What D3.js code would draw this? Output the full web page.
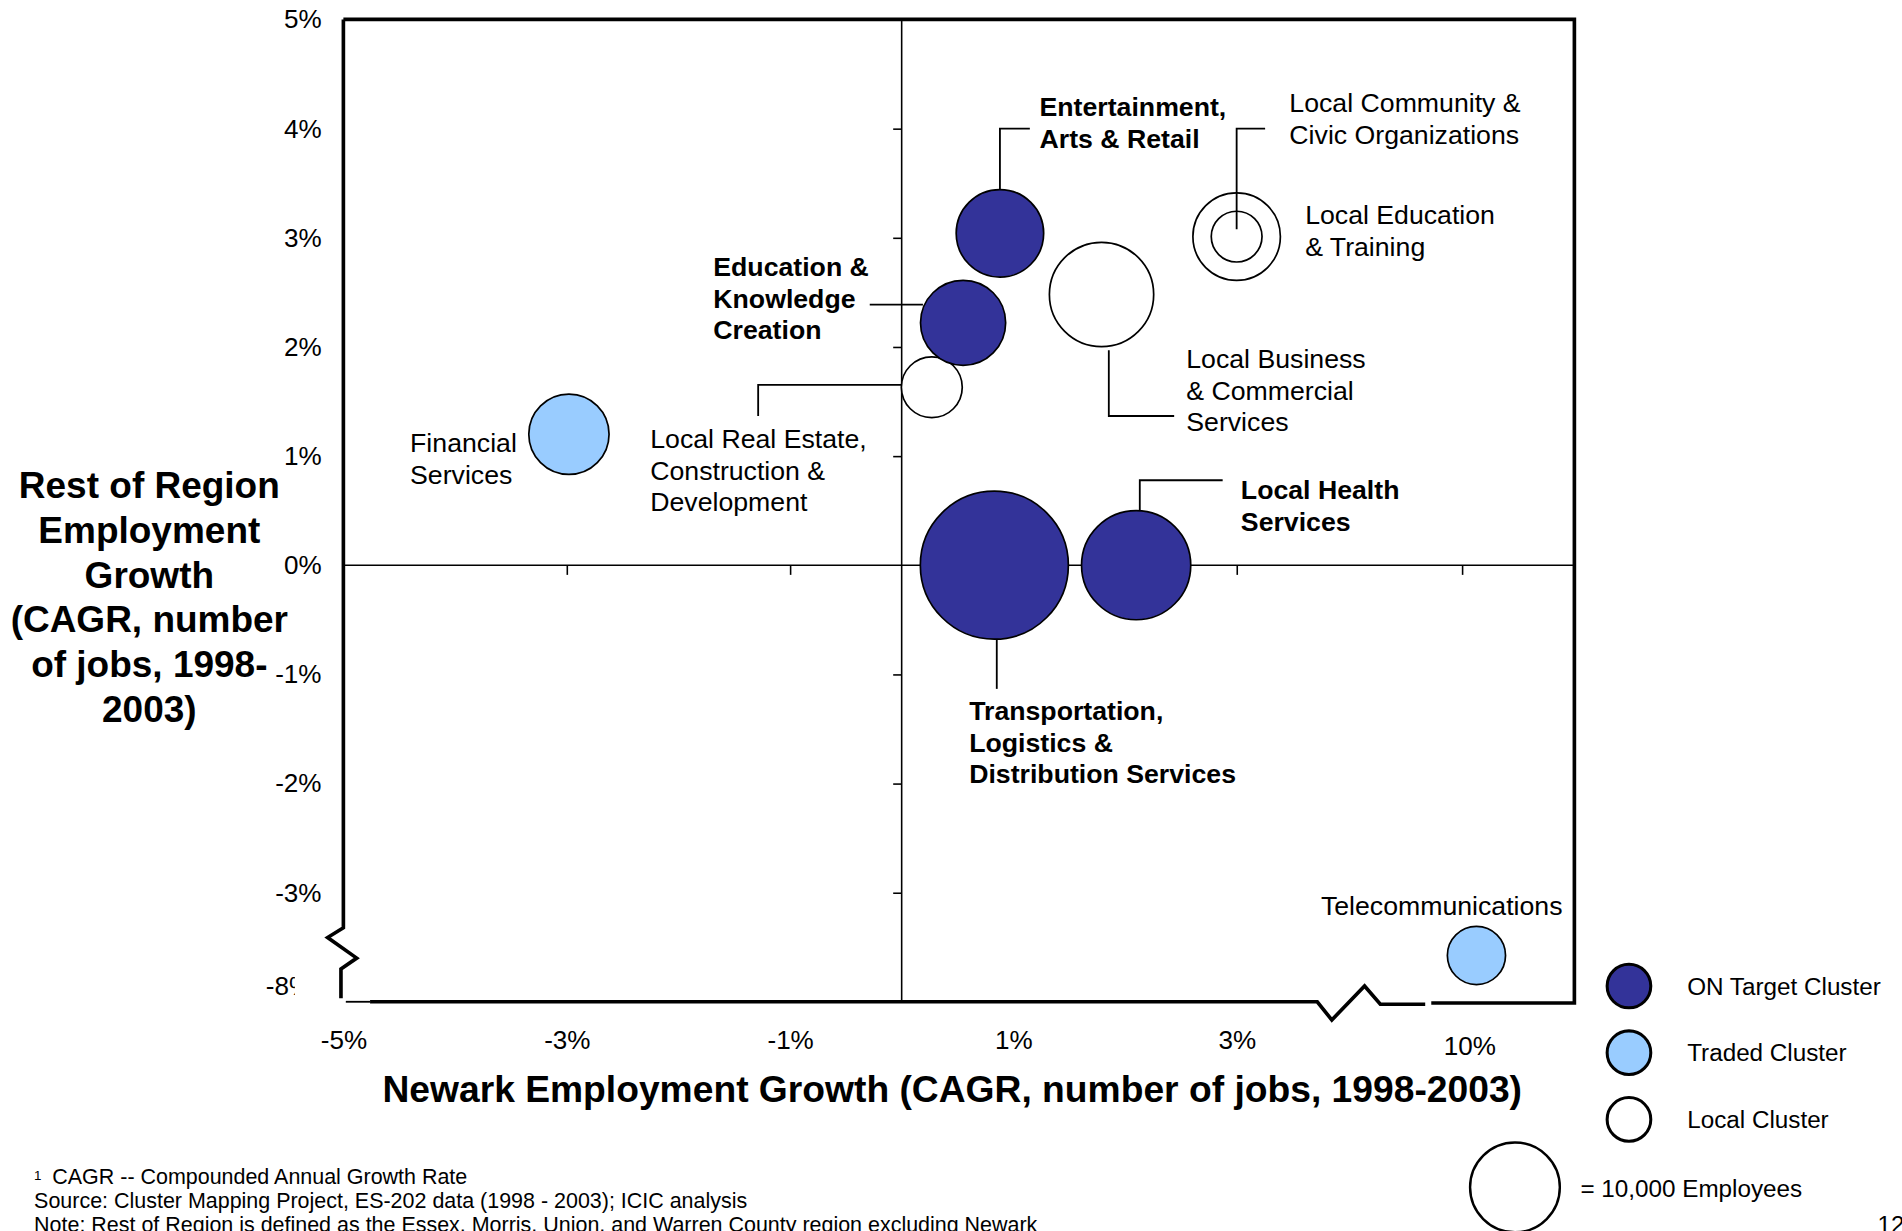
<!DOCTYPE html>
<html><head><meta charset="utf-8">
<script src="https://cdn.jsdelivr.net/npm/d3@7"></script>
<style>
body{margin:0;background:#fff}
svg{display:block}
text{font-family:"Liberation Sans",Arial,sans-serif;fill:#000}
</style>
</head><body>
<svg id="c" width="1902" height="1231" viewBox="0 0 1568 1015"></svg>
<script>
// ---------------- DATA ----------------
const clusters = [
  "Financial Services",
  "Local Real Estate, Construction & Development",
  "Education & Knowledge Creation",
  "Entertainment, Arts & Retail",
  "Local Business & Commercial Services",
  "Local Community & Civic Organizations",
  "Local Education & Training",
  "Transportation, Logistics & Distribution Services",
  "Local Health Services",
  "Telecommunications"
];
const clusterType = ["Traded","Local","ON Target","ON Target","Local","Local","Local","ON Target","ON Target","Traded"];
const newarkGrowth = [-2.98, 0.27, 0.55, 0.88, 1.79, 3.0, 3.0, 0.83, 2.1, 10.13];   // %
const regionGrowth = [1.2, 1.63, 2.22, 3.04, 2.48, 3.01, 3.01, 0.0, 0.0, -7.72];    // %
const employees    = [8000, 4600, 9000, 9500, 13500, 9500, 3200, 27200, 14800, 4200];

const xTickValues = [-5, -3, -1, 1, 3, 10];
const xTickLabels = ["-5%", "-3%", "-1%", "1%", "3%", "10%"];
const yTickValues = [5, 4, 3, 2, 1, 0, -1, -2, -3, -8];
const yTickLabels = ["5%", "4%", "3%", "2%", "1%", "0%", "-1%", "-2%", "-3%", "-8%"];

const legendTypes = ["ON Target", "Traded", "Local"];
const legendLabels = ["ON Target Cluster", "Traded Cluster", "Local Cluster"];
const sizeLegendValue = 10000;
const sizeLegendLabel = "= 10,000 Employees";

const xTitle = "Newark Employment Growth (CAGR, number of jobs, 1998-2003)";
const yTitleLines = ["Rest of Region", "Employment", "Growth", "(CAGR, number", "of jobs, 1998-", "2003)"];
const footnotes = [
  "CAGR -- Compounded Annual Growth Rate",
  "Source: Cluster Mapping Project, ES-202 data (1998 - 2003); ICIC analysis",
  "Note: Rest of Region is defined as the Essex, Morris, Union, and Warren County region excluding Newark"
];

// ---------------- LAYOUT ----------------
const L = 283, R = 1298, T = 16, B = 826;
const svg = d3.select("#c");

// broken axes: piecewise linear scales
const x = d3.scaleLinear().domain([-5, 4.2, 9.2, 11]).range([L, 1130, 1132, 1297]);
const y = d3.scaleLinear().domain([-8.15, -7.6, -3.4, 5]).range([826.5, 777, 772, T]);
const r = d3.scaleSqrt().domain([0, 10000]).range([0, 37]);
const fill = d3.scaleOrdinal().domain(["ON Target","Traded","Local"]).range(["#333399","#99CCFF","#FFFFFF"]);

// zero lines
svg.append("line").attr("x1", L).attr("x2", R).attr("y1", y(0)).attr("y2", y(0))
  .attr("stroke", "#000").attr("stroke-width", 1.3);
svg.append("line").attr("x1", x(0)).attr("x2", x(0)).attr("y1", T).attr("y2", B)
  .attr("stroke", "#000").attr("stroke-width", 1.3);

// tick marks on the zero lines
svg.append("g").attr("transform", `translate(0,${y(0)})`)
  .call(d3.axisBottom(x).tickValues(xTickValues.filter(v => v !== -5)).tickSize(8).tickFormat(""))
  .call(g => g.select(".domain").remove())
  .call(g => g.selectAll("line").attr("stroke", "#000").attr("stroke-width", 1.3));
svg.append("g").attr("transform", `translate(${x(0)},0)`)
  .call(d3.axisLeft(y).tickValues(yTickValues.filter(v => v !== 0 && v !== 5 && v !== -8)).tickSize(7).tickFormat(""))
  .call(g => g.select(".domain").remove())
  .call(g => g.selectAll("line").attr("stroke", "#000").attr("stroke-width", 1.3));

// tick labels
const yLab = svg.append("g").attr("transform", `translate(${L},0)`)
  .call(d3.axisLeft(y).tickValues(yTickValues.filter(v => v !== -8)).tickSize(0).tickPadding(18)
    .tickFormat(v => yTickLabels[yTickValues.indexOf(v)]))
  .call(g => g.select(".domain").remove());
yLab.selectAll("text").attr("font-size", 21.5).attr("font-family", "Liberation Sans, Arial, sans-serif");

// -8% label partially hidden in the original
svg.append("clipPath").attr("id", "clip8").append("rect").attr("x", 200).attr("y", 790).attr("width", 43).attr("height", 40);
svg.append("text").attr("x", 219).attr("y", y(-8)).attr("dy", "0.34em")
  .attr("font-size", 21.5).attr("clip-path", "url(#clip8)").text(yTickLabels[yTickValues.indexOf(-8)]);

const xLab = svg.append("g").attr("transform", `translate(0,${B})`)
  .call(d3.axisBottom(x).tickValues(xTickValues).tickSize(0).tickPadding(24)
    .tickFormat(v => xTickLabels[xTickValues.indexOf(v)]))
  .call(g => g.select(".domain").remove());
xLab.selectAll("text").attr("font-size", 21.5).attr("font-family", "Liberation Sans, Arial, sans-serif");
xLab.selectAll(".tick").filter(v => v === 10).select("text").attr("y", 29).attr("dx", 6);

// ---------------- BUBBLES ----------------
const data = clusters.map((c, i) => ({
  name: c, type: clusterType[i], nx: newarkGrowth[i], ry: regionGrowth[i], emp: employees[i]
}));
svg.append("g").selectAll("circle").data(data).join("circle")
  .attr("cx", d => x(d.nx)).attr("cy", d => y(d.ry)).attr("r", d => r(d.emp))
  .attr("fill", d => fill(d.type)).attr("stroke", "#000").attr("stroke-width", 1.4);

// ---------------- LABELS & LEADERS ----------------
const labelLayout = {
  "Financial Services": {x: 338, y: 372.7, lines: ["Financial", "Services"]},
  "Local Real Estate, Construction & Development": {x: 536, y: 369.7, lines: ["Local Real Estate,", "Construction &", "Development"],
     leader: (cx, cy, rr) => `M625,343V${cy - 2}H${cx - rr}`},
  "Education & Knowledge Creation": {x: 588, y: 227.7, lines: ["Education &", "Knowledge", "Creation"],
     leader: (cx, cy, rr) => `M717,${cy - 15}H${cx - rr + 2}`},
  "Entertainment, Arts & Retail": {x: 857, y: 95.7, lines: ["Entertainment,", "Arts & Retail"],
     leader: (cx, cy, rr) => `M${cx},${cy - rr}V106H849`},
  "Local Business & Commercial Services": {x: 978, y: 303.7, lines: ["Local Business", "& Commercial", "Services"],
     leader: (cx, cy, rr) => `M${cx + 6},${cy + rr + 3}V343H968`},
  "Local Community & Civic Organizations": {x: 1063, y: 92.7, lines: ["Local Community &", "Civic Organizations"],
     leader: (cx, cy, rr) => `M${cx},${cy - 6}V106H1043`},
  "Local Education & Training": {x: 1076, y: 184.7, lines: ["Local Education", "& Training"]},
  "Transportation, Logistics & Distribution Services": {x: 799, y: 593.7, lines: ["Transportation,", "Logistics &", "Distribution Services"],
     leader: (cx, cy, rr) => `M${cx + 2},${cy + rr}V568`},
  "Local Health Services": {x: 1023, y: 411.7, lines: ["Local Health", "Services"], lh: 26.5,
     leader: (cx, cy, rr) => `M${cx + 3},${cy - rr}V396H1008`},
  "Telecommunications": {x: 1089, y: 754.7, lines: ["Telecommunications"]}
};

const lab = svg.append("g");
data.forEach(d => {
  const lay = labelLayout[d.name];
  const cx = x(d.nx), cy = y(d.ry), rr = r(d.emp);
  if (lay.leader) {
    lab.append("path").attr("d", lay.leader(cx, cy, rr)).attr("fill", "none")
      .attr("stroke", "#000").attr("stroke-width", 1.5);
  }
  const t = lab.append("text").attr("x", lay.x).attr("y", lay.y).attr("font-size", 22)
    .attr("font-weight", d.type === "ON Target" ? "bold" : "normal");
  lay.lines.forEach((ln, k) => {
    t.append("tspan").attr("x", lay.x).attr("dy", k === 0 ? 0 : (lay.lh || 26)).text(ln);
  });
});

// ---------------- FRAME (with axis breaks) ----------------
const frame = d3.path();
frame.moveTo(L, T); frame.lineTo(R, T); frame.lineTo(R, B + 1); frame.lineTo(1180, B + 1);
svg.append("path").attr("d", frame.toString()).attr("fill", "none").attr("stroke", "#000")
  .attr("stroke-width", 3).attr("stroke-linejoin", "miter");
svg.append("path").attr("d", `M1175,828H1138L1125,813L1098,841L1086,826H305`)
  .attr("fill", "none").attr("stroke", "#000").attr("stroke-width", 3).attr("stroke-linejoin", "miter");
svg.append("path").attr("d", `M305,826H285`).attr("fill", "none").attr("stroke", "#000").attr("stroke-width", 1.5);
svg.append("path").attr("d", `M${L},${T}V765L270,773L294,790L281,799V823`)
  .attr("fill", "none").attr("stroke", "#000").attr("stroke-width", 3).attr("stroke-linejoin", "miter");

// ---------------- TITLES ----------------
svg.append("text").attr("x", 785).attr("y", 909).attr("text-anchor", "middle")
  .attr("font-size", 30.7).attr("font-weight", "bold").text(xTitle);
const yt = svg.append("text").attr("x", 123).attr("y", 411).attr("text-anchor", "middle")
  .attr("font-size", 30.5).attr("font-weight", "bold");
yTitleLines.forEach((ln, k) => yt.append("tspan").attr("x", 123).attr("dy", k === 0 ? 0 : 36.8).text(ln));

// ---------------- LEGEND ----------------
const lg = svg.append("g");
legendTypes.forEach((tp, i) => {
  const cy = 813 + i * 55;
  lg.append("circle").attr("cx", 1343).attr("cy", cy).attr("r", 18)
    .attr("fill", fill(tp)).attr("stroke", "#000").attr("stroke-width", 2.5);
  lg.append("text").attr("x", 1391).attr("y", cy + 7.2).attr("font-size", 20).text(legendLabels[i]);
});
lg.append("circle").attr("cx", 1249).attr("cy", 979).attr("r", r(sizeLegendValue))
  .attr("fill", "#fff").attr("stroke", "#000").attr("stroke-width", 2);
lg.append("text").attr("x", 1303).attr("y", 987).attr("font-size", 20).text(sizeLegendLabel);

// ---------------- FOOTNOTES ----------------
svg.append("text").attr("x", 28).attr("y", 973).attr("font-size", 11).text("1");
footnotes.forEach((f, i) => {
  svg.append("text").attr("x", i === 0 ? 43 : 28).attr("y", 976 + i * 20).attr("font-size", 17.7).text(f);
});
svg.append("text").attr("x", 1548).attr("y", 1017).attr("font-size", 20).text("12");
</script>
</body></html>
